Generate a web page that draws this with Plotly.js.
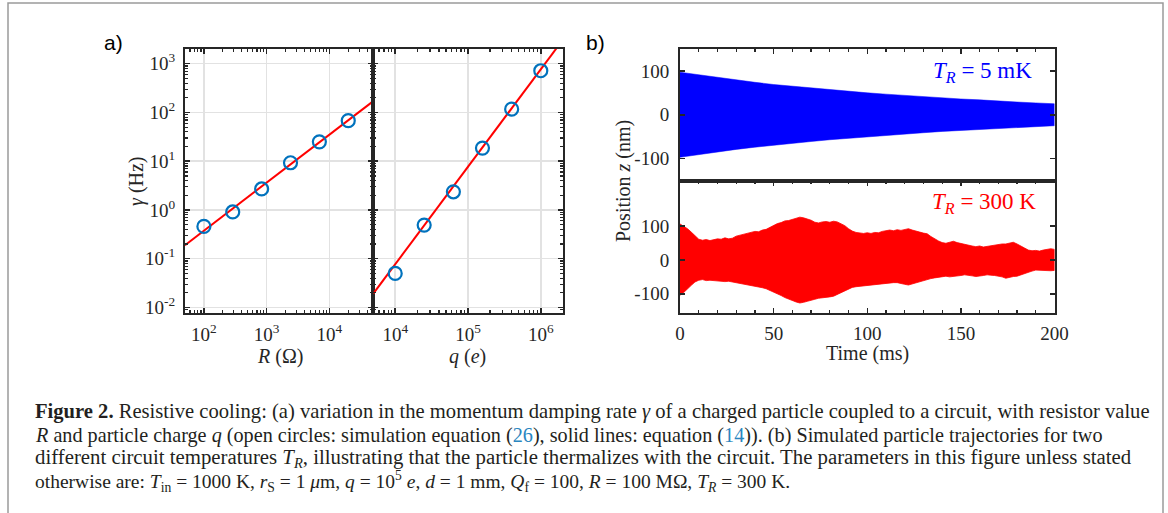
<!DOCTYPE html>
<html>
<head>
<meta charset="utf-8">
<script src="https://cdn.plot.ly/plotly-3.0.1.min.js"></script>
<style>
html,body{margin:0;padding:0;background:#fff;}
#chart{width:1168px;height:513px;}
</style>
</head>
<body>
<div id="chart"></div>
<script>
// ---------- DATA ----------
// panel a (left): damping rate vs resistor value
const R_ohm       = [100, 288, 832, 2399, 6918, 19953];
const gammaR_sim  = [0.46, 0.91, 2.7, 9.3, 25, 68];
const R_line      = [50, 50000];
const gammaR_line = [0.19, 171];
// panel a (right): damping rate vs particle charge
const q_e         = [1e4, 2.5e4, 6.3e4, 1.58e5, 3.98e5, 1e6];
const gammaQ_sim  = [0.05, 0.49, 2.36, 18.6, 117, 718];
const q_line      = [5000, 2e6];
const gammaQ_line = [0.0193, 3070];
// panel b (top): envelope of trajectory, T_R = 5 mK
const tBlue       = [0,10,20,30,40,50,60,70,80,90,100,110,120,130,140,150,160,170,180,190,200];
const blueUpper   = [97,91,85,79,74,69,65,61,57,53,50,47,44,41,38,36,34,31,29,27,25];
const blueLower   = [-97,-91,-85,-79,-74,-69,-65,-61,-57,-53,-50,-47,-44,-41,-38,-36,-34,-31,-29,-27,-25];
// panel b (bottom): envelope of trajectory, T_R = 300 K
const tRed = [0,2,4,6,8,10,12,14,16,18,20,22,24,26,28,30,32,34,36,38,40,42,44,46,48,50,52,54,56,58,60,62,64,66,68,70,72,74,76,78,80,82,84,86,88,90,92,94,96,98,100,102,104,106,108,110,112,114,116,118,120,122,124,126,128,130,132,134,136,138,140,142,144,146,148,150,152,154,156,158,160,162,164,166,168,170,172,174,176,178,180,182,184,186,188,190,192,194,196,198,200];
const redUpper = [106,100,92,82,71,61,58,60,57,60,62,61,65,62,64,70,73,76,79,80,84,83,88,90,96,101,107,110,115,116,120,122,126,124,121,117,111,109,112,113,111,114,112,106,101,92,85,81,80,78,80,78,81,80,84,85,88,86,89,87,90,92,88,84,82,79,77,69,62,56,51,49,52,55,51,48,46,44,41,39,41,38,40,42,44,45,47,47,50,52,47,42,35,29,27,28,26,29,30,33,31];
const redLower = [-104,-96,-86,-75,-65,-60,-58,-61,-60,-62,-61,-63,-64,-63,-66,-68,-69,-71,-73,-75,-77,-80,-82,-85,-88,-94,-100,-105,-111,-117,-120,-124,-127,-125,-122,-120,-116,-113,-112,-110,-109,-107,-102,-96,-91,-86,-81,-79,-78,-77,-76,-74,-73,-72,-71,-70,-68,-67,-67,-69,-72,-74,-71,-67,-64,-61,-58,-55,-53,-51,-49,-48,-50,-49,-48,-46,-44,-45,-47,-49,-48,-46,-44,-45,-46,-47,-50,-54,-51,-49,-48,-45,-40,-37,-33,-30,-29,-30,-31,-32,-31];
// tick labels
const logTickVals  = [0.01, 0.1, 1, 10, 100, 1000];
const logTickText  = ['10<sup>-2</sup>','10<sup>-1</sup>','10<sup>0</sup>','10<sup>1</sup>','10<sup>2</sup>','10<sup>3</sup>'];
const rTickVals    = [100, 1000, 10000];
const rTickText    = ['10<sup>2</sup>','10<sup>3</sup>','10<sup>4</sup>'];
const qTickVals    = [1e4, 1e5, 1e6];
const qTickText    = ['10<sup>4</sup>','10<sup>5</sup>','10<sup>6</sup>'];
const posTickVals  = [-100, 0, 100];
const posTickText  = ['-100', '0', '100'];
const timeTickVals = [0, 50, 100, 150, 200];

// ---------- HELPERS ----------
const W = 1168, H = 513;
const px = x => x / W;
const py = y => 1 - y / H;
function minorLog(lo, hi) {
  const v = [];
  for (let d = lo; d <= hi; d++) for (let k = 2; k <= 9; k++) v.push(k * Math.pow(10, d));
  return v;
}
const SERIF = 'Liberation Serif, Times New Roman, serif';
const INK = '#262626';
const tickFont = {family: SERIF, size: 19, color: INK};
const base = {
  showline: true, linecolor: INK, linewidth: 2, mirror: 'ticks',
  ticks: 'inside', ticklen: 5, tickwidth: 1.5, tickcolor: INK,
  zeroline: false, tickfont: tickFont, fixedrange: true
};
const logGrid = {showgrid: true, gridcolor: '#e2e2e2', gridwidth: 1.5, type: 'log'};

// ---------- TRACES ----------
const traces = [
  {x: R_line, y: gammaR_line, xaxis: 'x', yaxis: 'y', mode: 'lines',
   line: {color: '#ff0000', width: 2}, hoverinfo: 'skip'},
  {x: R_ohm, y: gammaR_sim, xaxis: 'x', yaxis: 'y', mode: 'markers',
   marker: {symbol: 'circle-open', size: 13, color: '#0072BD', line: {width: 2.2, color: '#0072BD'}}},
  {x: q_line, y: gammaQ_line, xaxis: 'x2', yaxis: 'y2', mode: 'lines',
   line: {color: '#ff0000', width: 2}, hoverinfo: 'skip'},
  {x: q_e, y: gammaQ_sim, xaxis: 'x2', yaxis: 'y2', mode: 'markers',
   marker: {symbol: 'circle-open', size: 13, color: '#0072BD', line: {width: 2.2, color: '#0072BD'}}},
  {x: tBlue.concat(tBlue.slice().reverse()), y: blueUpper.concat(blueLower.slice().reverse()),
   xaxis: 'x3', yaxis: 'y3', mode: 'lines', fill: 'toself', fillcolor: '#0000ff',
   line: {color: '#0000ff', width: 0.5}},
  {x: tRed.concat(tRed.slice().reverse()), y: redUpper.concat(redLower.slice().reverse()),
   xaxis: 'x4', yaxis: 'y4', mode: 'lines', fill: 'toself', fillcolor: '#ff0000',
   line: {color: '#ff0000', width: 0.8}}
];

// ---------- LAYOUT ----------
const domA_y = [py(312.5), py(49)];
const domB_x = [px(680), px(1054.5)];
const layout = {
  width: W, height: H, margin: {l: 0, r: 0, t: 0, b: 0},
  paper_bgcolor: '#fff', plot_bgcolor: '#fff', showlegend: false,
  xaxis: Object.assign({}, base, logGrid, {
    domain: [px(185), px(373.3)], range: [Math.log10(50), Math.log10(50000)], anchor: 'y',
    tickmode: 'array', tickvals: rTickVals, ticktext: rTickText, ticklabelstandoff: 4,
    minor: {tickmode: 'array', tickvals: minorLog(1, 4), ticks: 'inside', ticklen: 3, tickwidth: 1.2, tickcolor: INK, showgrid: false}
  }),
  yaxis: Object.assign({}, base, logGrid, {
    domain: domA_y, range: [-2.103, 3.302], anchor: 'x',
    tickmode: 'array', tickvals: logTickVals, ticktext: logTickText, ticklabelstandoff: 4,
    minor: {tickmode: 'array', tickvals: minorLog(-3, 3), ticks: 'inside', ticklen: 3, tickwidth: 1.2, tickcolor: INK, showgrid: false}
  }),
  xaxis2: Object.assign({}, base, logGrid, {
    domain: [px(373.3), px(562.7)], range: [Math.log10(5000), Math.log10(2e6)], anchor: 'y2',
    tickmode: 'array', tickvals: qTickVals, ticktext: qTickText, ticklabelstandoff: 4,
    minor: {tickmode: 'array', tickvals: minorLog(3, 6), ticks: 'inside', ticklen: 3, tickwidth: 1.2, tickcolor: INK, showgrid: false}
  }),
  yaxis2: Object.assign({}, base, logGrid, {
    domain: domA_y, range: [-2.103, 3.302], anchor: 'x2', showticklabels: false,
    tickmode: 'array', tickvals: logTickVals,
    minor: {tickmode: 'array', tickvals: minorLog(-3, 3), ticks: 'inside', ticklen: 3, tickwidth: 1.2, tickcolor: INK, showgrid: false}
  }),
  xaxis3: Object.assign({}, base, {
    domain: domB_x, range: [0, 200], anchor: 'y3', side: 'top', mirror: true,
    showgrid: false, showticklabels: false, tickmode: 'array', tickvals: timeTickVals,
    minor: {dtick: 10, ticks: 'inside', ticklen: 3, tickwidth: 1.2, tickcolor: INK, showgrid: false}
  }),
  yaxis3: Object.assign({}, base, {
    domain: [py(180.5), py(49)], range: [-150, 150], anchor: 'x3', showgrid: false,
    tickmode: 'array', tickvals: posTickVals, ticktext: posTickText, ticklabelstandoff: 5
  }),
  xaxis4: Object.assign({}, base, {
    domain: domB_x, range: [0, 200], anchor: 'y4', showgrid: false,
    tickmode: 'array', tickvals: timeTickVals, ticklabelstandoff: 3,
    minor: {dtick: 10, ticks: 'inside', ticklen: 3, tickwidth: 1.2, tickcolor: INK, showgrid: false}
  }),
  yaxis4: Object.assign({}, base, {
    domain: [py(312.5), py(180.5)], range: [-155, 234], anchor: 'x4', showgrid: false,
    tickmode: 'array', tickvals: posTickVals, ticktext: posTickText, ticklabelstandoff: 5
  }),
  shapes: [
    {type: 'rect', xref: 'paper', yref: 'paper', x0: px(8), x1: px(1163), y0: -0.2, y1: py(3),
     line: {color: '#9a9a9a', width: 1.5}, fillcolor: 'rgba(0,0,0,0)', layer: 'below'}
  ],
  annotations: []
};

function ann(text, x, y, opts) {
  layout.annotations.push(Object.assign({
    text: text, xref: 'paper', yref: 'paper', x: px(x), y: py(y),
    xanchor: 'center', yanchor: 'middle', showarrow: false,
    font: {family: SERIF, size: 20, color: INK}
  }, opts || {}));
}
ann('a)', 113, 42, {font: {family: 'Liberation Sans, Arial, sans-serif', size: 21, color: '#000'}});
ann('b)', 595, 42, {font: {family: 'Liberation Sans, Arial, sans-serif', size: 21, color: '#000'}});
ann('<i>γ</i> (Hz)', 136, 181, {textangle: -90});
ann('<i>R</i> (Ω)', 280, 356);
ann('<i>q</i> (<i>e</i>)', 467, 356);
ann('Position <i>z</i> (nm)', 623, 181, {textangle: -90});
ann('Time (ms)', 867, 353);
ann('<i>T</i><sub><i>R</i></sub> = 5 mK', 1034, 72, {xanchor: 'right', font: {family: SERIF, size: 23, color: '#0000ff'}});
ann('<i>T</i><sub><i>R</i></sub> = 300 K', 1038, 203, {xanchor: 'right', font: {family: SERIF, size: 23, color: '#ff0000'}});

const LINK = '#2a86c0';
const capLines = [
  '<b>Figure 2.</b> Resistive cooling: (a) variation in the momentum damping rate <i>γ</i> of a charged particle coupled to a circuit, with resistor value',
  '<i>R</i> and particle charge <i>q</i> (open circles: simulation equation (<span style="color:' + LINK + '">26</span>), solid lines: equation (<span style="color:' + LINK + '">14</span>)). (b) Simulated particle trajectories for two',
  'different circuit temperatures <i>T<sub>R</sub></i>, illustrating that the particle thermalizes with the circuit. The parameters in this figure unless stated',
  'otherwise are: <i>T</i><sub>in</sub> = 1000 K, <i>r</i><sub>S</sub> = 1 <i>μ</i>m, <i>q</i> = 10<sup>5</sup> <i>e</i>, <i>d</i> = 1 mm, <i>Q</i><sub>f</sub> = 100, <i>R</i> = 100 MΩ, <i>T<sub>R</sub></i> = 300 K.'
];
const capY = [411.5, 435, 458.3, 481.7];
const capSize = [20.6, 20.2, 20.8, 19.5];
capLines.forEach((t, i) => ann(t, 33, capY[i], {xanchor: 'left', font: {family: SERIF, size: capSize[i], color: '#231f20'}}));

Plotly.newPlot('chart', traces, layout, {staticPlot: true, displayModeBar: false});
</script>
</body>
</html>
